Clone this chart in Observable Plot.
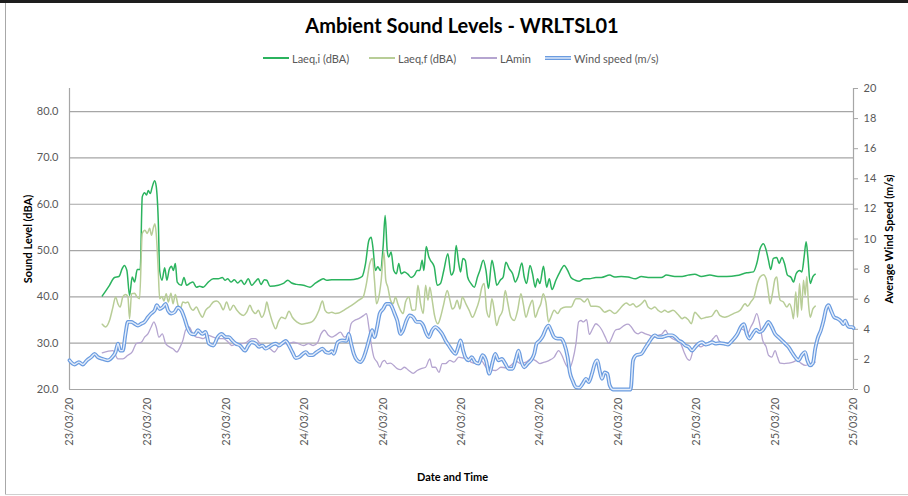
<!DOCTYPE html>
<html>
<head>
<meta charset="utf-8">
<script src="https://cdn.jsdelivr.net/npm/d3@7"></script>
<script src="https://cdn.jsdelivr.net/npm/@observablehq/plot@0.6"></script>
<style>
  html, body { margin: 0; padding: 0; background: #fff; }
  #chart { position: relative; width: 908px; height: 496px; overflow: hidden; font-family: Lato, "Open Sans", sans-serif; background: #fff; }
  #title { position: absolute; left: 16px; top: 12px; width: 892px; text-align: center; font-weight: 700; font-size: 20px; line-height: 26px; color: #000; }
  .leg { position: absolute; top: 51px; height: 14px; display: flex; align-items: center; font-size: 11px; color: #595959; white-space: nowrap; }
  .leg svg { margin-right: 3px; }
  #plots { position: absolute; left: 0; top: 70px; width: 908px; height: 426px; }
  #plots svg { position: absolute; left: 0; top: 0; }
  .frame { position: absolute; pointer-events: none; }
</style>
</head>
<body>
<div id="chart">
  <div class="frame" style="left:0;top:0;width:908px;height:3px;background:#1e1e1e;"></div>
  <div class="frame" style="left:5px;top:3px;width:1px;height:491px;background:#a8a8a8;"></div>
  <div class="frame" style="left:5px;top:494px;width:903px;height:1px;background:#d0d0d0;"></div>
  <div id="title"></div>
  <div id="legend"></div>
  <div id="plots"></div>
</div>
<script>
// ---------------- data ----------------
const chartTitle = "Ambient Sound Levels - WRLTSL01";
const seriesNames = ["Laeq,i (dBA)", "Laeq,f (dBA)", "LAmin", "Wind speed (m/s)"];
const xAxisTitle = "Date and Time";
const leftAxisTitle = "Sound Level (dBA)";
const rightAxisTitle = "Average Wind Speed (m/s)";
// x tick labels, one per 5 hours from the start of the record
const dateLabels = ["23/03/20","23/03/20","23/03/20","24/03/20","24/03/20","24/03/20","24/03/20","24/03/20","25/03/20","25/03/20","25/03/20"];
const soundTicks = [20, 30, 40, 50, 60, 70, 80];
const windTicks = [0, 2, 4, 6, 8, 10, 12, 14, 16, 18, 20];

// [hours from start, dBA]
const laeqI = [[2.09,40.2],[2.55,42.5],[2.87,44.2],[3.15,44.4],[3.36,46.1],[3.49,46.8],[3.66,45.7],[3.83,40.3],[4.0,44.3],[4.15,43.2],[4.32,45.9],[4.51,45.9],[4.64,61.6],[4.79,62.5],[4.92,62.0],[5.02,63.0],[5.15,62.3],[5.28,63.8],[5.43,65.1],[5.53,63.9],[5.66,56.6],[5.75,45.7],[5.9,43.6],[6.07,46.3],[6.21,43.6],[6.36,45.9],[6.51,46.6],[6.62,45.7],[6.75,47.2],[6.87,43.2],[7.13,42.5],[7.3,44.2],[7.47,42.5],[7.7,43.0],[7.87,43.2],[8.09,42.1],[8.3,42.3],[8.53,42.1],[8.85,43.2],[9.17,43.9],[9.49,43.9],[9.75,44.2],[9.92,43.6],[10.09,43.9],[10.3,43.2],[10.51,43.7],[10.73,43.0],[10.94,43.6],[11.15,42.7],[11.4,43.9],[11.62,42.5],[11.83,43.2],[12.04,43.9],[12.21,42.7],[12.43,43.7],[12.58,43.6],[12.79,42.3],[13.32,42.5],[13.64,42.9],[13.92,43.6],[14.17,43.0],[14.49,42.7],[14.92,42.5],[15.34,42.1],[15.66,42.9],[15.98,43.6],[16.19,43.9],[16.41,43.6],[16.73,43.7],[17.07,43.7],[17.49,43.7],[17.92,43.7],[18.34,43.9],[18.66,44.4],[18.88,47.2],[19.09,52.2],[19.24,52.9],[19.36,50.4],[19.51,45.7],[19.66,46.5],[19.83,45.7],[20.0,50.8],[20.13,57.6],[20.26,50.1],[20.36,48.6],[20.51,49.7],[20.68,45.7],[20.85,45.0],[21.0,47.2],[21.15,45.0],[21.36,45.4],[21.58,44.9],[21.79,44.2],[22.0,44.7],[22.17,45.7],[22.34,45.7],[22.49,47.9],[22.6,45.7],[22.75,50.9],[22.92,48.6],[23.02,47.9],[23.26,46.5],[23.45,42.5],[23.66,42.9],[23.87,45.7],[24.13,49.3],[24.34,44.7],[24.51,45.7],[24.66,51.1],[24.81,47.5],[24.94,45.4],[25.09,48.3],[25.24,47.9],[25.39,44.3],[25.6,42.9],[25.82,42.1],[26.02,44.3],[26.17,45.7],[26.39,47.9],[26.56,45.7],[26.72,41.8],[26.94,47.9],[27.09,45.7],[27.25,42.5],[27.47,43.6],[27.66,44.3],[27.83,47.5],[28.04,46.1],[28.26,45.0],[28.43,43.2],[28.6,44.3],[28.85,47.3],[29.0,44.3],[29.15,42.9],[29.37,46.8],[29.53,45.0],[29.7,42.1],[29.85,43.9],[30.0,42.9],[30.23,46.6],[30.43,42.1],[30.6,43.9],[30.77,41.6],[31.02,43.6],[31.28,45.4],[31.55,46.8],[31.77,45.7],[31.98,44.2],[32.26,43.6],[32.51,43.4],[32.83,43.9],[33.15,43.9],[33.57,44.2],[33.92,44.2],[34.45,44.7],[34.77,44.3],[35.19,44.4],[35.62,44.3],[36.09,43.9],[36.47,44.4],[36.9,44.2],[37.32,44.2],[37.75,44.2],[38.07,44.7],[38.6,44.4],[39.07,44.4],[39.45,44.7],[39.88,44.9],[40.3,44.4],[40.84,44.7],[41.36,44.4],[41.92,44.4],[42.55,44.6],[43.19,45.2],[43.62,45.4],[43.83,47.2],[44.04,50.4],[44.26,51.5],[44.43,50.1],[44.58,47.9],[44.72,45.9],[44.89,48.3],[45.11,48.5],[45.26,47.2],[45.43,48.5],[45.6,47.2],[45.79,44.7],[46.02,44.2],[46.17,43.2],[46.34,45.0],[46.56,45.7],[46.71,45.4],[46.85,48.6],[46.98,51.9],[47.09,48.6],[47.24,42.9],[47.41,44.4],[47.56,44.9]];

const laeqF = [[2.09,34.1],[2.3,33.5],[2.55,34.9],[2.77,37.8],[2.94,40.0],[3.09,38.5],[3.23,37.8],[3.4,40.0],[3.57,40.5],[3.72,40.1],[3.83,35.3],[3.96,40.7],[4.15,40.8],[4.3,40.0],[4.47,39.6],[4.64,53.7],[4.81,54.4],[4.96,53.7],[5.11,54.8],[5.23,53.3],[5.36,55.1],[5.45,55.8],[5.53,53.7],[5.66,45.7],[5.75,39.6],[5.9,40.1],[6.02,39.1],[6.17,40.7],[6.3,38.9],[6.47,40.8],[6.6,38.5],[6.75,40.5],[6.92,38.2],[7.07,37.4],[7.23,38.9],[7.4,38.7],[7.55,38.9],[7.7,37.8],[7.87,37.1],[8.09,37.8],[8.3,36.5],[8.47,35.6],[8.68,37.1],[8.96,38.0],[9.17,38.9],[9.38,39.1],[9.6,38.5],[9.81,37.2],[10.02,38.9],[10.24,37.1],[10.45,38.2],[10.68,37.1],[10.87,36.4],[11.09,36.0],[11.3,36.7],[11.51,38.2],[11.66,37.1],[11.87,36.4],[12.04,37.1],[12.26,35.6],[12.47,37.1],[12.58,38.9],[12.72,37.1],[12.94,34.6],[13.15,33.1],[13.32,34.6],[13.53,35.6],[13.75,35.3],[14.0,36.9],[14.21,35.6],[14.49,34.6],[14.81,34.1],[15.13,34.3],[15.45,34.6],[15.7,35.6],[15.91,37.1],[16.13,39.1],[16.3,37.1],[16.51,36.5],[16.73,36.7],[16.96,36.4],[17.17,36.5],[17.49,37.1],[17.81,37.8],[18.13,38.5],[18.45,39.3],[18.73,40.0],[18.94,42.9],[19.15,47.2],[19.32,48.3],[19.45,43.6],[19.58,38.5],[19.73,40.0],[19.88,43.6],[20.05,49.7],[20.17,43.6],[20.3,42.1],[20.47,39.3],[20.64,38.5],[20.79,40.0],[20.94,38.5],[21.11,37.1],[21.28,36.4],[21.43,38.9],[21.64,40.0],[21.85,37.1],[22.07,37.2],[22.22,42.5],[22.39,38.5],[22.56,36.4],[22.71,42.5],[22.86,39.3],[22.98,42.1],[23.13,39.3],[23.28,36.0],[23.49,34.2],[23.66,35.6],[23.87,38.5],[24.09,41.4],[24.26,39.3],[24.41,37.4],[24.56,37.8],[24.72,39.3],[24.9,37.4],[25.05,40.0],[25.28,38.5],[25.49,37.1],[25.7,35.6],[25.92,37.1],[26.13,39.3],[26.3,42.1],[26.45,42.9],[26.6,37.1],[26.77,35.6],[26.94,39.6],[27.09,37.1],[27.24,33.8],[27.41,35.6],[27.62,37.1],[27.79,41.4],[27.94,38.9],[28.15,35.6],[28.36,34.9],[28.58,37.1],[28.79,40.7],[28.94,38.5],[29.11,35.6],[29.32,37.8],[29.53,39.3],[29.7,35.6],[29.91,37.4],[30.06,38.5],[30.21,40.7],[30.38,38.9],[30.55,34.6],[30.7,35.6],[30.91,37.1],[31.13,36.4],[31.34,37.4],[31.66,37.8],[31.98,37.8],[32.3,39.6],[32.55,39.6],[32.83,38.9],[33.04,39.6],[33.26,38.0],[33.57,38.0],[33.81,37.8],[34.13,36.7],[34.45,37.1],[34.77,36.4],[35.02,37.1],[35.3,38.2],[35.51,38.7],[35.73,38.2],[35.94,38.5],[36.15,37.8],[36.37,38.2],[36.58,38.9],[36.69,39.3],[36.9,37.8],[37.11,37.4],[37.32,37.8],[37.54,37.1],[37.75,36.7],[37.96,37.1],[38.17,36.7],[38.49,37.1],[38.81,36.2],[39.07,35.3],[39.24,35.6],[39.45,35.1],[39.66,34.2],[39.88,36.7],[40.09,36.0],[40.3,35.3],[40.62,35.6],[40.94,35.8],[41.26,37.1],[41.47,36.0],[41.79,35.6],[42.0,35.8],[42.34,36.4],[42.77,37.1],[43.09,38.5],[43.24,38.0],[43.45,38.9],[43.66,40.0],[43.87,42.9],[44.04,44.3],[44.26,44.8],[44.43,43.9],[44.58,40.7],[44.68,38.5],[44.83,40.7],[45.0,43.9],[45.11,44.3],[45.21,41.4],[45.32,39.3],[45.53,38.9],[45.75,37.8],[45.92,38.5],[46.07,37.1],[46.17,35.3],[46.32,41.1],[46.43,35.6],[46.56,42.9],[46.69,37.1],[46.81,43.6],[46.92,40.3],[47.02,44.4],[47.13,38.5],[47.24,35.6],[47.41,37.4],[47.56,38.0]];

const laMin = [[2.09,27.9],[2.77,28.4],[3.09,26.6],[3.4,26.6],[3.72,27.4],[4.0,28.1],[4.26,29.9],[4.58,30.2],[4.79,31.3],[5.0,32.0],[5.21,33.5],[5.38,34.6],[5.53,33.5],[5.7,31.3],[5.92,32.0],[6.13,29.9],[6.38,29.2],[6.6,28.8],[6.85,28.1],[7.06,29.2],[7.23,30.6],[7.4,32.8],[7.62,33.5],[7.87,32.0],[8.09,31.3],[8.3,31.2],[8.53,31.0],[8.85,31.7],[9.17,31.3],[9.49,31.0],[9.81,31.0],[10.13,30.2],[10.34,29.5],[10.66,29.9],[10.98,29.9],[11.3,30.2],[11.62,31.0],[11.87,31.0],[12.15,29.9],[12.47,29.2],[12.79,28.8],[13.07,28.1],[13.32,29.2],[13.64,29.9],[13.96,29.9],[14.28,30.2],[14.6,29.9],[14.92,29.5],[15.24,29.9],[15.55,29.5],[15.83,30.2],[16.04,32.0],[16.26,32.8],[16.51,31.7],[16.73,31.3],[16.96,31.7],[17.28,32.4],[17.53,31.3],[17.81,32.0],[17.96,34.2],[18.17,34.9],[18.45,35.3],[18.77,36.0],[18.94,36.4],[19.09,33.5],[19.24,29.9],[19.41,27.0],[19.62,25.9],[19.79,24.8],[19.94,25.9],[20.09,26.3],[20.26,25.6],[20.47,25.7],[20.68,25.2],[20.9,24.5],[21.11,24.3],[21.36,24.8],[21.64,24.1],[21.92,23.5],[22.17,24.1],[22.43,24.5],[22.71,24.8],[22.98,26.6],[23.13,24.8],[23.34,24.8],[23.56,23.7],[23.77,25.6],[23.98,25.6],[24.26,26.3],[24.51,25.9],[24.83,27.0],[25.1,26.8],[25.32,27.0],[25.6,25.9],[25.92,25.6],[26.24,26.3],[26.56,24.8],[26.88,24.3],[27.19,24.1],[27.51,24.8],[27.83,24.7],[28.15,25.2],[28.47,26.1],[28.79,25.6],[29.11,25.9],[29.43,26.6],[29.7,26.3],[30.0,25.6],[30.28,25.9],[30.6,26.3],[30.91,27.0],[31.19,28.4],[31.4,27.4],[31.62,25.6],[31.87,24.5],[32.09,26.3],[32.3,29.9],[32.47,34.6],[32.62,34.9],[32.77,34.6],[32.98,35.1],[33.15,31.9],[33.36,33.1],[33.57,34.2],[33.75,33.8],[33.96,32.8],[34.17,31.3],[34.39,30.0],[34.6,31.3],[34.81,32.8],[35.09,33.1],[35.36,33.8],[35.62,34.1],[35.83,33.5],[36.05,32.4],[36.26,32.0],[36.47,32.4],[36.73,32.0],[37.0,31.7],[37.28,31.3],[37.54,31.7],[37.79,32.0],[38.0,32.8],[38.21,31.7],[38.43,31.0],[38.7,30.6],[38.98,29.9],[39.19,28.1],[39.4,26.6],[39.55,26.3],[39.77,28.4],[39.98,29.9],[40.26,29.2],[40.51,29.7],[40.77,29.9],[41.05,31.0],[41.26,31.7],[41.41,30.6],[41.68,29.9],[41.92,29.9],[42.23,30.6],[42.55,32.0],[42.81,33.1],[43.02,32.8],[43.23,32.0],[43.45,33.5],[43.62,34.6],[43.83,36.4],[44.04,33.8],[44.21,30.6],[44.43,29.2],[44.58,27.4],[44.79,27.0],[45.0,28.4],[45.15,27.0],[45.32,25.7],[45.58,25.6],[45.85,25.7],[46.13,25.9],[46.39,26.3],[46.64,25.7],[46.92,25.2],[47.13,25.4],[47.34,25.7],[47.56,25.9]];

// [hours from start, m/s]
const windSpeed = [[0,1.94],[0.32,1.66],[0.6,1.82],[0.85,1.66],[1.11,1.94],[1.38,2.15],[1.6,2.37],[1.81,2.15],[2.13,2.03],[2.45,1.94],[2.72,2.15],[2.94,2.49],[3.09,3.05],[3.23,2.58],[3.4,2.58],[3.57,3.69],[3.72,4.49],[3.94,4.49],[4.15,4.37],[4.36,4.25],[4.58,4.37],[4.79,4.49],[5.0,4.8],[5.21,5.05],[5.43,5.26],[5.57,5.6],[5.75,5.35],[5.96,5.48],[6.13,5.69],[6.28,5.26],[6.49,5.05],[6.7,5.14],[6.91,5.45],[7.13,5.26],[7.34,4.71],[7.55,4.03],[7.77,3.69],[7.98,3.66],[8.19,3.94],[8.47,3.69],[8.68,3.82],[8.89,3.05],[9.17,2.92],[9.45,3.48],[9.7,3.69],[9.96,3.48],[10.17,3.48],[10.38,3.26],[10.6,3.05],[10.87,2.92],[11.19,2.58],[11.4,2.92],[11.62,3.14],[11.87,3.05],[12.09,2.83],[12.3,2.92],[12.51,2.71],[12.72,2.83],[12.94,2.98],[13.15,3.05],[13.36,2.92],[13.58,3.08],[13.79,3.23],[14.0,2.92],[14.21,2.49],[14.43,2.09],[14.64,2.15],[14.85,2.34],[15.07,2.49],[15.28,2.28],[15.49,2.28],[15.7,2.43],[15.91,2.58],[16.13,2.71],[16.34,2.49],[16.55,2.43],[16.73,2.55],[16.85,2.37],[17.11,3.14],[17.38,3.26],[17.66,3.23],[17.81,3.69],[17.96,3.05],[18.13,2.37],[18.34,1.94],[18.55,1.82],[18.77,2.15],[18.98,2.83],[19.15,3.48],[19.3,3.94],[19.45,3.48],[19.62,4.15],[19.79,5.05],[20.0,5.35],[20.21,5.69],[20.43,5.69],[20.58,5.45],[20.73,5.05],[20.9,4.58],[21.11,3.69],[21.28,3.94],[21.49,4.58],[21.7,4.92],[21.92,4.8],[22.13,4.49],[22.34,4.49],[22.56,4.25],[22.77,3.69],[22.92,3.48],[23.13,3.94],[23.34,4.15],[23.56,3.97],[23.77,3.69],[23.98,3.26],[24.19,2.92],[24.41,2.58],[24.62,2.37],[24.79,2.83],[24.94,3.26],[25.11,2.58],[25.24,2.15],[25.45,1.94],[25.66,2.15],[25.87,1.82],[26.09,1.72],[26.34,2.28],[26.56,1.94],[26.77,1.05],[26.98,1.82],[27.15,2.37],[27.36,1.94],[27.58,2.03],[27.79,1.72],[28.0,1.38],[28.26,1.38],[28.47,2.03],[28.64,2.58],[28.79,1.94],[29.0,1.48],[29.22,1.72],[29.43,1.94],[29.64,2.37],[29.79,3.05],[30.0,3.26],[30.21,3.6],[30.38,4.03],[30.55,4.25],[30.7,3.94],[30.91,3.48],[31.13,3.38],[31.34,3.38],[31.55,3.05],[31.77,2.15],[31.91,1.14],[32.09,0.58],[32.3,0.15],[32.51,0.12],[32.72,0.37],[32.94,0.71],[33.11,0.49],[33.32,1.05],[33.5,1.72],[33.66,1.94],[33.81,1.26],[33.96,0.71],[34.13,1.14],[34.3,1.05],[34.45,0.28],[34.66,0],[34.98,0],[35.41,0],[35.79,0],[35.94,1.94],[36.15,2.28],[36.47,2.37],[36.69,2.71],[36.9,3.05],[37.11,3.38],[37.32,3.6],[37.54,3.48],[37.75,3.48],[37.96,3.54],[38.17,3.6],[38.43,3.6],[38.64,3.48],[38.85,3.26],[39.07,3.14],[39.28,2.92],[39.49,2.83],[39.7,2.58],[39.92,2.83],[40.13,3.05],[40.34,3.14],[40.57,2.98],[40.77,3.05],[40.98,3.14],[41.19,3.05],[41.47,3.08],[41.75,3.05],[42.0,2.98],[42.17,3.14],[42.38,3.38],[42.6,3.69],[42.81,4.15],[43.02,4.34],[43.19,3.69],[43.36,3.38],[43.57,3.69],[43.79,3.97],[44.0,3.82],[44.21,3.94],[44.36,4.18],[44.57,4.49],[44.79,4.15],[45.0,3.69],[45.21,3.48],[45.43,3.26],[45.64,3.05],[45.85,2.83],[46.06,2.49],[46.28,2.15],[46.49,1.94],[46.7,2.28],[46.91,2.49],[47.06,1.94],[47.23,1.6],[47.41,1.75],[47.56,2.71],[47.71,3.38],[47.92,3.94],[48.09,4.58],[48.26,5.38],[48.41,5.6],[48.56,5.26],[48.77,4.8],[48.98,4.71],[49.19,4.55],[49.36,4.34],[49.47,4.58],[49.62,4.25],[49.75,4.15],[49.9,4.15],[50.0,4.09]];

// ---------------- styling ----------------
const colors = { laeqI: "#2bb35e", laeqF: "#b8cd97", laMin: "#b5a5d0", windOuter: "#6b9ce0", windInner: "#e4edfa" };
const grey = "#a6a6a6";
const textGrey = "#595959";
const W = 908, H = 426;
const margins = { marginTop: 18, marginBottom: 107, marginLeft: 69, marginRight: 55 };
const hourTicks = dateLabels.map((_, i) => i * 5);
const rows = arr => arr.map(([h, v]) => ({ h, v }));

document.getElementById("title").textContent = chartTitle;

// legend
const legendSpec = [
  { name: seriesNames[0], left: 263, stroke: colors.laeqI, w: 2 },
  { name: seriesNames[1], left: 369, stroke: colors.laeqF, w: 2 },
  { name: seriesNames[2], left: 471, stroke: colors.laMin, w: 2 },
  { name: seriesNames[3], left: 545, stroke: colors.windOuter, w: 4, inner: colors.windInner }
];
const legend = document.getElementById("legend");
legendSpec.forEach(s => {
  const d = document.createElement("div");
  d.className = "leg";
  d.style.left = s.left + "px";
  let sw = `<svg width="26" height="8"><line x1="0" x2="26" y1="4" y2="4" stroke="${s.stroke}" stroke-width="${s.w}"/>`;
  if (s.inner) sw += `<line x1="0" x2="26" y1="4" y2="4" stroke="${s.inner}" stroke-width="1.4"/>`;
  sw += `</svg>`;
  d.innerHTML = sw + `<span></span>`;
  d.querySelector("span").textContent = s.name;
  legend.appendChild(d);
});

const baseStyle = { fontFamily: "Lato, 'Open Sans', sans-serif", fontSize: "11px", color: textGrey, background: "transparent", overflow: "visible" };

const soundPlot = Plot.plot({
  width: W, height: H, ...margins,
  style: baseStyle,
  x: { domain: [0, 50] },
  y: { domain: [20, 85] },
  marks: [
    Plot.ruleY(soundTicks, { stroke: grey, strokeWidth: 1.2 }),
    Plot.ruleX([0], { stroke: grey, strokeWidth: 1.2 }),
    Plot.axisY({ ticks: soundTicks, tickSize: 0, tickPadding: 11, tickFormat: d => d.toFixed(1), label: null, fill: textGrey }),
    Plot.axisX({ ticks: hourTicks, tickSize: 0, tickPadding: 8, tickRotate: -90, tickFormat: d => dateLabels[Math.round(d / 5)], label: null, fill: textGrey }),
    Plot.line(rows(laeqI), { x: "h", y: "v", stroke: colors.laeqI, strokeWidth: 1.5, curve: "monotone-x" }),
    Plot.line(rows(laeqF), { x: "h", y: "v", stroke: colors.laeqF, strokeWidth: 1.5, curve: "monotone-x" }),
    Plot.line(rows(laMin), { x: "h", y: "v", stroke: colors.laMin, strokeWidth: 1.3, curve: "monotone-x" }),
    Plot.text([leftAxisTitle], { frameAnchor: "left", dx: -41, rotate: -90, textAnchor: "middle", fontWeight: "bold", fontSize: 11, fill: "#000" }),
    Plot.text([xAxisTitle], { frameAnchor: "bottom", dx: -9, dy: 91, textAnchor: "middle", fontWeight: "bold", fontSize: 11, fill: "#000" })
  ]
});

const windPlot = Plot.plot({
  width: W, height: H, ...margins,
  style: baseStyle,
  x: { domain: [0, 50], axis: null },
  y: { domain: [0, 20] },
  marks: [
    Plot.ruleX([50], { stroke: grey, strokeWidth: 1.2 }),
    Plot.axisY({ anchor: "right", ticks: windTicks, tickSize: 4, tickPadding: 6, stroke: grey, fill: textGrey, label: null }),
    Plot.line(rows(windSpeed), { x: "h", y: "v", stroke: colors.windOuter, strokeWidth: 3.8, curve: "monotone-x" }),
    Plot.line(rows(windSpeed), { x: "h", y: "v", stroke: colors.windInner, strokeWidth: 1.4, curve: "monotone-x" }),
    Plot.text([rightAxisTitle], { frameAnchor: "right", dx: 36, rotate: -90, textAnchor: "middle", fontWeight: "bold", fontSize: 11, fill: "#000" })
  ]
});

const plots = document.getElementById("plots");
plots.appendChild(soundPlot);
plots.appendChild(windPlot);
</script>
</body>
</html>
